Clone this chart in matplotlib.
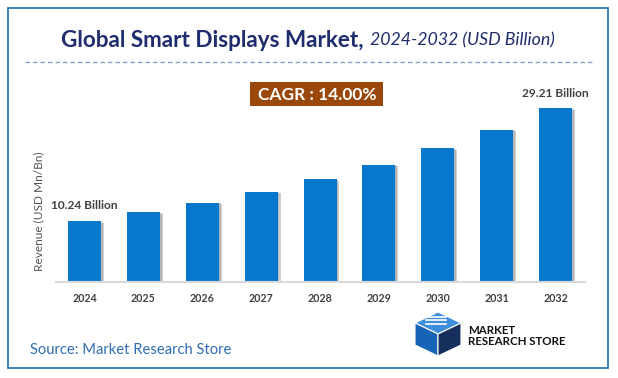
import numpy as np
import matplotlib
matplotlib.use("Agg")
import matplotlib.pyplot as plt
from matplotlib.patches import Rectangle, Polygon
from matplotlib.lines import Line2D

## DATOS

years = ['2024', '2025', '2026', '2027', '2028', '2029', '2030', '2031', '2032']
revenue = [10.24, 11.67, 13.31, 15.17, 17.29, 19.71, 22.47, 25.62, 29.21]
first_label = '10.24 Billion'
last_label = '29.21 Billion'
cagr_text = 'CAGR : 14.00%'

W, H = 618, 378
plt.rcParams['font.family'] = ['Lato', 'DejaVu Sans']

def fx(x):                      # pixel -> figura
    return x / W

def fy(y):
    return 1 - y / H

fig = plt.figure(figsize=(W / 100, H / 100), dpi=100)
fig.patch.set_facecolor('white')

## Marco azul
fig.patches.append(Rectangle((fx(8), fy(367.5)), fx(599.5), (359.5) / H,
                             transform=fig.transFigure, fill=False,
                             edgecolor='#2E75B6', linewidth=1.3))

## Titulo
fig.text(fx(364), fy(40.5), 'Global Smart Displays Market,', ha='right', va='center',
         fontsize=16.2, fontweight='bold', color='#1F2C6E')
fig.text(fx(370), fy(40.5), '2024-2032 (USD Billion)', ha='left', va='center',
         fontsize=12.8, fontstyle='italic', color='#1F2C6E')
fig.lines.append(Line2D([fx(25), fx(592)], [fy(62), fy(62)], transform=fig.transFigure,
                        color='#7F96C4', linewidth=0.9, linestyle=(0, (3.5, 2.5))))

## Grafico
ax = fig.add_axes([fx(55.7), fy(281.5), fx(585) - fx(55.7), (281.5 - 91.7) / H])
x = np.arange(len(years))
ax.bar(x + 0.05, np.array(revenue) - 0.3, width=0.56, color='#7A7A7A', alpha=0.35,
       zorder=1, linewidth=0)
ax.bar(x + 0.03, np.array(revenue) - 0.15, width=0.56, color='#7A7A7A', alpha=0.3,
       zorder=1, linewidth=0)
ax.bar(x, revenue, width=0.56, color='#0778CD', zorder=2, linewidth=0)
ax.set_xlim(-0.49, len(years) - 0.5)
ax.set_ylim(0, 32)
ax.set_xticks(x)
ax.set_xticklabels(years, fontsize=7.7, fontweight='bold', color='#404040')
ax.tick_params(axis='x', length=0, pad=8)
ax.set_yticks([])
for s in ['top', 'right', 'left']:
    ax.spines[s].set_visible(False)
ax.spines['bottom'].set_color('#D9D9D9')
ax.spines['bottom'].set_linewidth(1.5)

ax.annotate(first_label, (x[0], revenue[0]), xytext=(0, 11), textcoords='offset points',
            ha='center', va='center', fontsize=8.6, fontweight='bold', color='#404040')
ax.annotate(last_label, (x[-1], revenue[-1]), xytext=(0, 10.3), textcoords='offset points',
            ha='center', va='center', fontsize=8.6, fontweight='bold', color='#404040')

fig.text(fx(39), fy(211), 'Revenue (USD Mn/Bn)', rotation=90, ha='center', va='center',
         fontsize=8.6, color='#555555')

## CAGR
fig.patches.append(Rectangle((fx(250), fy(106)), fx(133), 24 / H, transform=fig.transFigure,
                             facecolor='#9A470B', edgecolor='none'))
fig.text(fx(317), fy(94.5), cagr_text, ha='center', va='center', fontsize=12.5,
         fontweight='bold', color='white')

## Fuente
fig.text(fx(30), fy(350), 'Source: Market Research Store', ha='left', va='center',
         fontsize=10.6, color='#2E6DB4')

## Logo
cx, cy = 438, 334
top = [(cx - 23, cy - 11), (cx, cy - 22), (cx + 23, cy - 11), (cx, cy)]
left = [(cx - 23, cy - 11), (cx, cy), (cx, cy + 22), (cx - 23, cy + 11)]
right = [(cx, cy), (cx + 23, cy - 11), (cx + 23, cy + 11), (cx, cy + 22)]
for pts, col in [(top, '#3F8EDB'), (left, '#1763B5'), (right, '#17305E')]:
    fig.patches.append(Polygon([(fx(a), fy(b)) for a, b in pts], closed=True,
                               transform=fig.transFigure, facecolor=col, edgecolor='white',
                               linewidth=0.8))
for off in [-7, 0, 7]:
    fig.lines.append(Line2D([fx(cx - 12), fx(cx + 8)], [fy(cy - 11 + off / 2 - 3), fy(cy - 20 + off / 2 + 6)],
                            transform=fig.transFigure, color='white', linewidth=1.2))
fig.text(fx(468), fy(331), 'MARKET', ha='left', va='center', fontsize=8.3,
         fontweight='bold', color='#111111')
fig.text(fx(468), fy(341.5), 'RESEARCH STORE', ha='left', va='center', fontsize=8.3,
         fontweight='bold', color='#111111')

fig.savefig('out.png', dpi=100, facecolor='white')
